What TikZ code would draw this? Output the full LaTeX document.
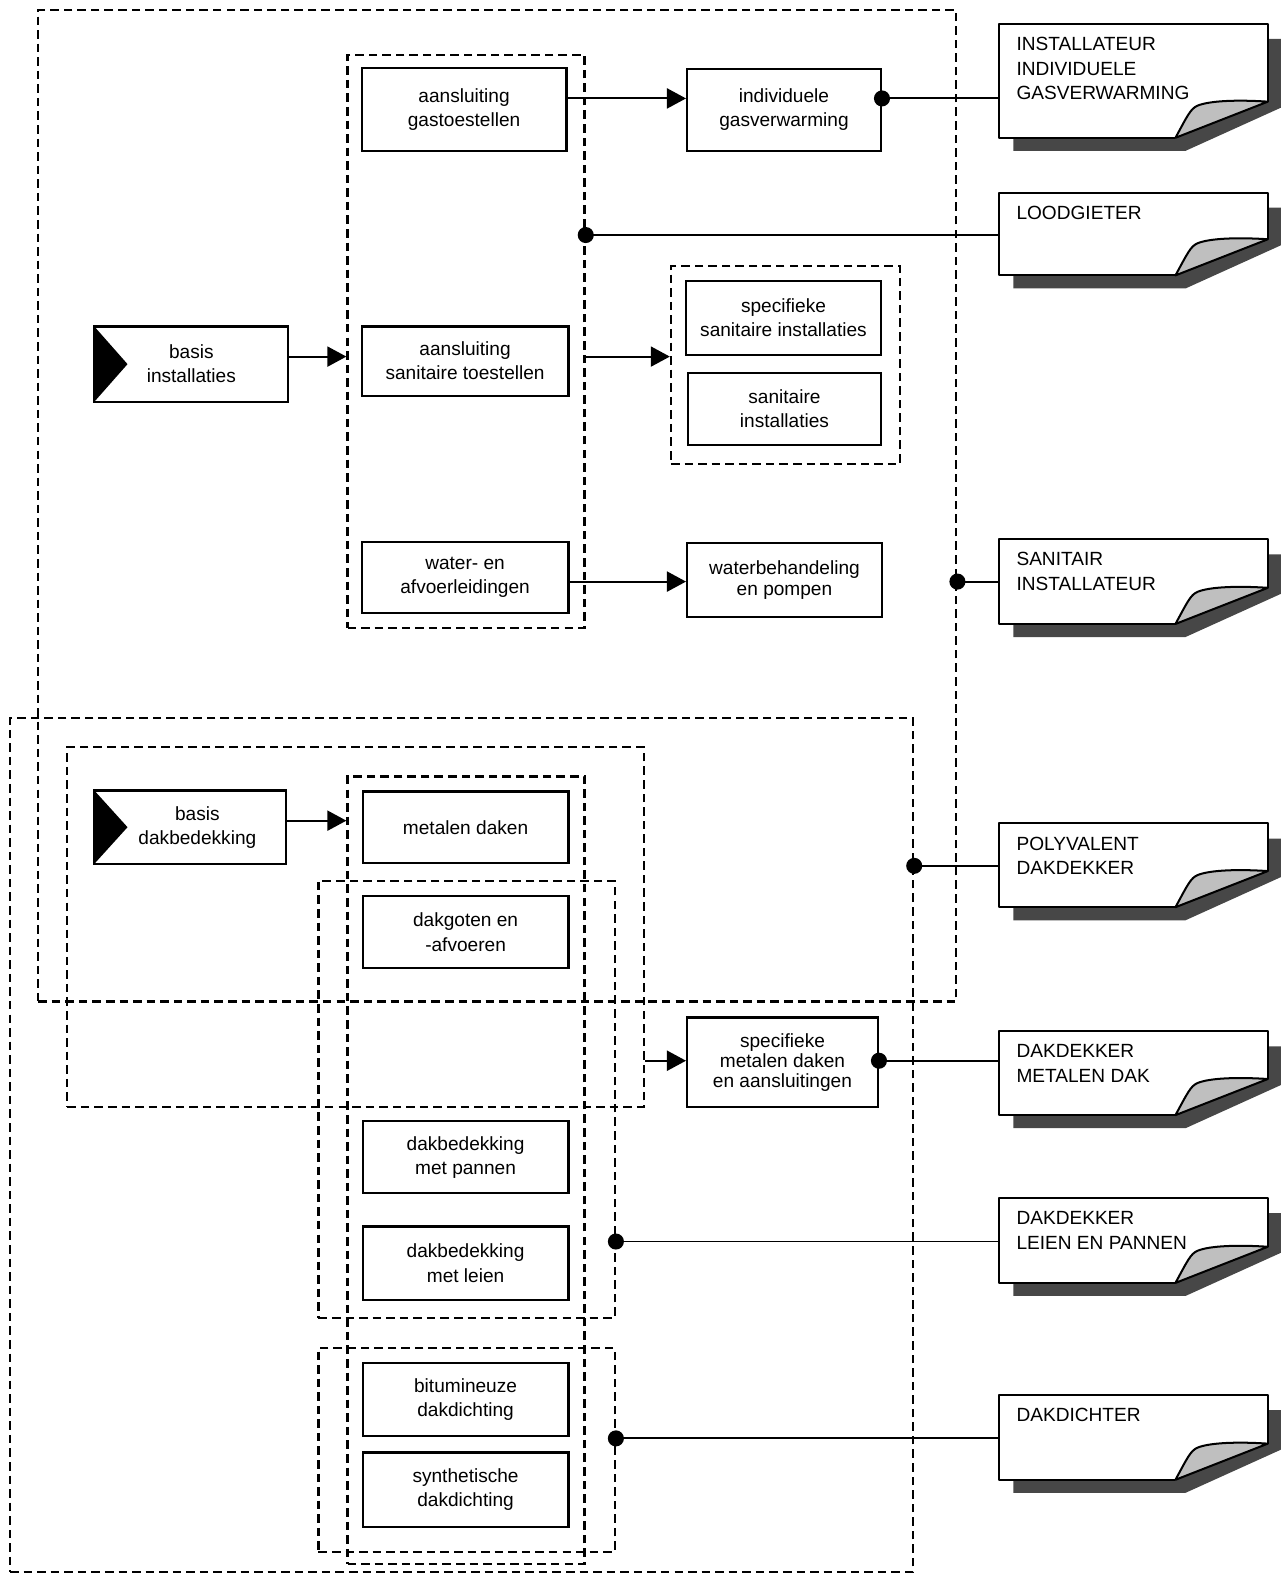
\documentclass[tikz,border=0pt]{standalone}
\usepackage{fontspec}
\setmainfont{Liberation Sans}
\usetikzlibrary{arrows.meta,calc}
\newcommand\drawdoc[1]{%
  \fill[black!72] ($(#1.north east)+(0,15)$) -- ($(#1.north east)+(13,15)$) -- ($(#1.south east)+(13,-30)$) -- ($(#1.south east)+(-82,13)$) -- ($(#1.south west)+(14,13)$) -- ($(#1.south west)+(14,0)$) -- ($(#1.south east)+(-92,0)$) -- ($(#1.south east)+(0,-36)$) -- cycle;
  \fill[white] (#1.north west) -- (#1.north east) -- ($(#1.south east)+(0,-36)$) -- ($(#1.south east)+(-92,0)$) -- (#1.south west) -- cycle;
  \draw[docline] ($(#1.south east)+(-92,0)$) -- (#1.south west) -- (#1.north west) -- (#1.north east) -- ($(#1.south east)+(0,-36)$);
  \filldraw[fill=black!25, docline] ($(#1.south east)+(0,-36)$) .. controls ($(#1.south east)+(-30,-38)$) and ($(#1.south east)+(-58,-37)$) .. ($(#1.south east)+(-70,-32)$) .. controls ($(#1.south east)+(-77,-29)$) and ($(#1.south east)+(-80,-22)$) .. ($(#1.south east)+(-92,0)$) -- cycle;
}
\begin{document}
\begin{tikzpicture}[x=1pt,y=-1pt,
  box/.style={draw, line width=2.1pt, inner sep=0pt, align=center, font=\fontsize{19}{24}\selectfont},
  tight/.style={font=\fontsize{19}{20}\selectfont},
  sz/.style 2 args={minimum width=#1pt, minimum height=#2pt},
  grp/.style={draw, line width=2.3pt, dash pattern=on 8.5pt off 5pt, inner sep=0pt},
  conn/.style={line width=1.9pt},
  arr/.style={conn, -{Triangle[length=19pt,width=20pt]}},
  docline/.style={line width=2pt, line join=round},
  docsz/.style={minimum width=267pt, inner sep=0pt},
  doctext/.style={anchor=north west, inner sep=0pt, align=left, font=\fontsize{19}{24.5}\selectfont},
  dotr/.style={radius=8pt}
]
\useasboundingbox (0,0) rectangle (1282,1568);

% dashed groups
\node[grp, sz={914}{987}] (A) at (495,503.5) {};
\node[grp, sz={236}{570}] (B) at (464,340) {};
\node[grp, sz={228}{197}] (C) at (782,363.5) {};
\node[grp, sz={899}{850}] (D) at (459.5,1140) {};
\node[grp, sz={574}{358}] (E) at (354,923) {};
\node[grp, sz={236}{784}] (F) at (464,1165) {};
\node[grp, sz={295}{435}] (G) at (464.5,1094.5) {};
\node[grp, sz={295}{203}] (H) at (464.5,1443.5) {};

% boxes
\node[box, sz={204}{82}] (gas) at (462,109) {aansluiting\\gastoestellen};
\node[box, sz={193}{81}] (indiv) at (780.5,109.5) {individuele\\gasverwarming};
\node[box, sz={206}{69}] (santoe) at (463,359.5) {aansluiting\\sanitaire toestellen};
\node[box, sz={206}{70}] (water) at (463,575) {water- en\\afvoerleidingen};
\node[box, tight, sz={194}{73}] (waterb) at (781,577.5) {waterbehandeling\\en pompen};
\node[box, sz={195}{73}] (specsan) at (780,316.5) {specifieke\\sanitaire installaties};
\node[box, sz={193}{72}] (saninst) at (781,407) {sanitaire\\installaties};
\node[box, sz={193}{75}] (bi) at (190.5,362.5) {basis\\installaties};
\node[box, sz={191}{73}] (bd) at (189.5,823.5) {\hspace*{14pt}basis\\\hspace*{14pt}dakbedekking};
\node[box, sz={205}{71}] (metalen) at (463.5,823.5) {metalen daken};
\node[box, sz={205}{72}] (dakgoten) at (463.5,928) {dakgoten en\\-afvoeren};
\node[box, tight, sz={190}{89}] (specmet) at (779,1057.5) {specifieke\\metalen daken\\en aansluitingen};
\node[box, sz={205}{72}] (pannen) at (463.5,1152) {dakbedekking\\met pannen};
\node[box, sz={205}{73}] (leien) at (463.5,1257.5) {dakbedekking\\met leien};
\node[box, sz={205}{73}] (bitum) at (463.5,1393.5) {bitumineuze\\dakdichting};
\node[box, sz={205}{74}] (synth) at (463.5,1483) {synthetische\\dakdichting};

% black triangles on basis nodes
\fill (bi.north west) -- ($(bi.west)+(34,0)$) -- (bi.south west) -- cycle;
\fill (bd.north west) -- ($(bd.west)+(34,0)$) -- (bd.south west) -- cycle;

% documents
\node[docsz, minimum height=113pt] (d1) at (1128.5,80.5) {};
\node[docsz, minimum height=82pt] (d2) at (1128.5,233) {};
\node[docsz, minimum height=84pt] (d3) at (1128.5,579) {};
\node[docsz, minimum height=83pt] (d4) at (1128.5,861.5) {};
\node[docsz, minimum height=83pt] (d5) at (1128.5,1068.5) {};
\node[docsz, minimum height=84pt] (d6) at (1128.5,1235) {};
\node[docsz, minimum height=84pt] (d7) at (1128.5,1431) {};
\drawdoc{d1}\drawdoc{d2}\drawdoc{d3}\drawdoc{d4}\drawdoc{d5}\drawdoc{d6}\drawdoc{d7}
\node[doctext] (t1) at ($(d1.north west)+(17,13)$) {INSTALLATEUR\\INDIVIDUELE\\GASVERWARMING};
\node[doctext] (t2) at ($(d2.north west)+(17,13)$) {LOODGIETER};
\node[doctext] (t3) at ($(d3.north west)+(17,13)$) {SANITAIR\\INSTALLATEUR};
\node[doctext] (t4) at ($(d4.north west)+(17,13)$) {POLYVALENT\\DAKDEKKER};
\node[doctext] (t5) at ($(d5.north west)+(17,13)$) {DAKDEKKER\\METALEN DAK};
\node[doctext] (t6) at ($(d6.north west)+(17,13)$) {DAKDEKKER\\LEIEN EN PANNEN};
\node[doctext] (t7) at ($(d7.north west)+(17,13)$) {DAKDICHTER};

% y levels
\coordinate (y98) at (0,98);
\coordinate (y234) at (0,234);
\coordinate (y355) at (0,355);
\coordinate (y579) at (0,579);
\coordinate (y817) at (0,817);
\coordinate (y862) at (0,862);
\coordinate (y1056) at (0,1056);
\coordinate (y1236) at (0,1236);
\coordinate (y1432) at (0,1432);

% connectors
\draw[arr] (gas.east |- y98) -- (indiv.west |- y98);
\draw[conn] (indiv.east |- y98) -- (d1.west |- y98);
\fill[dotr] (indiv.east |- y98) circle;
\draw[conn] (B.east |- y234) -- (d2.west |- y234);
\fill[dotr] (B.east |- y234) circle;
\draw[arr] (bi.east |- y355) -- (B.west |- y355);
\draw[arr] (B.east |- y355) -- (C.west |- y355);
\draw[arr] (water.east |- y579) -- (waterb.west |- y579);
\draw[conn] (A.east |- y579) -- (d3.west |- y579);
\fill[dotr] (A.east |- y579) circle;
\draw[arr] (bd.east |- y817) -- (F.west |- y817);
\draw[conn] (D.east |- y862) -- (d4.west |- y862);
\fill[dotr] (D.east |- y862) circle;
\draw[arr] (E.east |- y1056) -- (specmet.west |- y1056);
\draw[conn] (specmet.east |- y1056) -- (d5.west |- y1056);
\fill[dotr] (specmet.east |- y1056) circle;
\draw[conn] (G.east |- y1236) -- (d6.west |- y1236);
\fill[dotr] (G.east |- y1236) circle;
\draw[conn] (H.east |- y1432) -- (d7.west |- y1432);
\fill[dotr] (H.east |- y1432) circle;
\end{tikzpicture}
\end{document}
